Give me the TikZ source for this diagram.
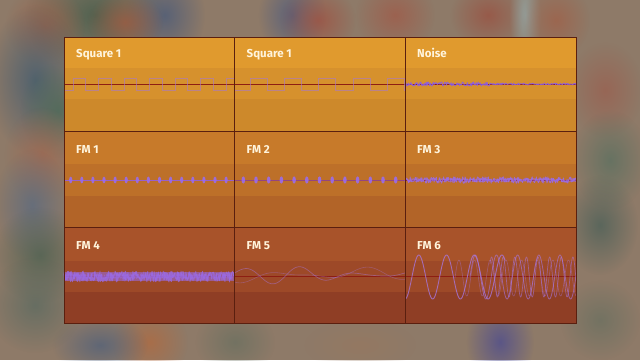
\documentclass[tikz,border=0pt]{standalone}
\usepackage{fontspec}
\setmainfont{Fira Sans}
\usetikzlibrary{fadings}
\definecolor{bgbase}{HTML}{8E7A68}
\definecolor{gridline}{HTML}{5A1F0F}
\definecolor{midline}{HTML}{8E1E12}
\definecolor{labelc}{HTML}{FFF4DC}
\definecolor{rAa}{HTML}{E09A2E}\definecolor{rAb}{HTML}{D6912D}\definecolor{rAc}{HTML}{CD892B}
\definecolor{rBa}{HTML}{C77A2A}\definecolor{rBb}{HTML}{BD7029}\definecolor{rBc}{HTML}{B26428}
\definecolor{rCa}{HTML}{A8532A}\definecolor{rCb}{HTML}{9D4928}\definecolor{rCc}{HTML}{8F3E25}
\definecolor{sqc}{HTML}{A878C8}
\definecolor{noisec}{HTML}{8A5CE8}
\definecolor{fmc}{HTML}{9A6CEC}
\definecolor{fmsix}{HTML}{A878E4}
\tikzfading[name=blobfade, inner color=transparent!0, outer color=transparent!100]
\tikzset{
  blob/.style={fill={#1}, path fading=blobfade, opacity=0.75},
  gridstroke/.style={draw=gridline, line width=1pt},
  cline/.style={draw=midline, line width=1pt},
  sqw/.style={draw=sqc, line width=0.8pt, opacity=0.6},
  noisew/.style={draw=noisec, line width=0.9pt, opacity=0.9, line join=round},
  fmw/.style={draw=fmc, line width=0.8pt, opacity=0.85, line join=round},
  blip/.style={fill=fmc, opacity=0.9},
  lbl/.style={text=labelc, font=\bfseries\fontsize{11.5}{13}\selectfont, anchor=base west, inner sep=0pt},
}
\begin{document}
\begin{tikzpicture}[x=1pt,y=-1pt]
\pgfmathsetseed{7}
\useasboundingbox (0,0) rectangle (640,360);
% background
\fill[bgbase] (0,0) rectangle (640,360);
\fill[blob={rgb,255:red,62;green,90;blue,72}] (95,15) ellipse (70pt and 60pt);
\fill[blob={rgb,255:red,72;green,90;blue,122}] (165,15) ellipse (40pt and 50pt);
\fill[blob={rgb,255:red,160;green,90;blue,64}] (125,22) ellipse (38pt and 30pt);
\fill[blob={rgb,255:red,154;green,96;blue,72}] (45,25) ellipse (40pt and 40pt);
\fill[blob={rgb,255:red,62;green,90;blue,112}] (35,80) ellipse (48pt and 75pt);
\fill[blob={rgb,255:red,74;green,106;blue,88}] (58,110) ellipse (38pt and 48pt);
\fill[blob={rgb,255:red,160;green,104;blue,80}] (42,155) ellipse (38pt and 48pt);
\fill[blob={rgb,255:red,90;green,106;blue,128}] (32,205) ellipse (38pt and 56pt);
\fill[blob={rgb,255:red,74;green,96;blue,80}] (40,255) ellipse (48pt and 48pt);
\fill[blob={rgb,255:red,90;green,106;blue,96}] (35,305) ellipse (48pt and 48pt);
\fill[blob={rgb,255:red,176;green,106;blue,64}] (150,342) ellipse (38pt and 38pt);
\fill[blob={rgb,255:red,80;green,96;blue,122}] (100,345) ellipse (48pt and 30pt);
\fill[blob={rgb,255:red,106;green,112;blue,96}] (235,342) ellipse (40pt and 34pt);
\fill[blob={rgb,255:red,74;green,90;blue,128}] (292,15) ellipse (34pt and 42pt);
\fill[blob={rgb,255:red,160;green,80;blue,64}] (318,20) ellipse (38pt and 34pt);
\fill[blob={rgb,255:red,160;green,90;blue,72}] (395,15) ellipse (40pt and 38pt);
\fill[blob={rgb,255:red,154;green,80;blue,64}] (488,15) ellipse (38pt and 34pt);
\fill[blob={rgb,255:red,150;green,170;blue,170}] (525,15) ellipse (16pt and 48pt);
\fill[blob={rgb,255:red,160;green,96;blue,72}] (556,20) ellipse (34pt and 38pt);
\fill[blob={rgb,255:red,154;green,96;blue,80}] (605,90) ellipse (38pt and 48pt);
\fill[blob={rgb,255:red,90;green,112;blue,96}] (610,160) ellipse (38pt and 50pt);
\fill[blob={rgb,255:red,74;green,96;blue,88}] (600,225) ellipse (38pt and 50pt);
\fill[blob={rgb,255:red,74;green,74;blue,144}] (500,342) ellipse (34pt and 44pt);
\fill[blob={rgb,255:red,106;green,112;blue,96}] (600,320) ellipse (40pt and 40pt);
\fill[blob={rgb,255:red,150;green,120;blue,96}] (360,345) ellipse (56pt and 26pt);
% panel bands
\fill[rAa] (64,37) rectangle (576,68);
\fill[rAb] (64,68) rectangle (576,99);
\fill[rAc] (64,99) rectangle (576,131);
\fill[rBa] (64,131) rectangle (576,164);
\fill[rBb] (64,164) rectangle (576,196);
\fill[rBc] (64,196) rectangle (576,227);
\fill[rCa] (64,227) rectangle (576,261);
\fill[rCb] (64,261) rectangle (576,292);
\fill[rCc] (64,292) rectangle (576,323);
% centre lines
\draw[cline] (64,84) -- (576,84);
\draw[cline] (64,180) -- (576,180);
\draw[cline] (64,276) -- (576,276);
% Square 1 (col 1)
\begin{scope}
\clip (64,37) rectangle (234,131);
\draw[sqw] (64,90) \foreach \k in {0,...,6} { -- ({73+25.5*\k},90) -- ({73+25.5*\k},78) -- ({85.75+25.5*\k},78) -- ({85.75+25.5*\k},90) } -- (240,90);
\end{scope}
% Square 1 (col 2)
\begin{scope}
\clip (234,37) rectangle (405,131);
\draw[sqw] (234,90) \foreach \k in {0,...,4} { -- ({250+34.3*\k},90) -- ({250+34.3*\k},78) -- ({267.2+34.3*\k},78) -- ({267.2+34.3*\k},90) } -- (410,90);
\end{scope}
% Noise
\draw[noisew] plot[domain=405:490, samples=130] (\x,{84+2*rand});
\draw[noisew] plot[domain=490:576, samples=110] (\x,{84+0.9*rand});
% FM 1
\draw[fmw] (64,180) -- (234,180);
\foreach \k in {0,...,14} \fill[blip] ({70.7+11.1*\k},180) ellipse (1.6pt and 3.4pt);
% FM 2
\draw[fmw, opacity=0.5] (234,180) -- (405,180);
\foreach \k in {0,...,12} \fill[blip] ({243.3+12.7*\k},180) ellipse (1.8pt and 3.6pt);
% FM 3
\draw[fmw] plot[domain=405:576, samples=360] (\x,{180+3.2*rand});
\draw[fmw, opacity=0.6] plot[domain=405:576, samples=300] (\x,{180+2*rand});
% FM 4
\fill[fmc, opacity=0.55] (64,272) rectangle (234,281);
\draw[fmw, opacity=0.7] plot[domain=64:234, samples=450] (\x,{276.5+5.5*rand});
\draw[fmw, opacity=0.5] plot[domain=64:234, samples=350] (\x,{276.5+4*rand});
% FM 5
\begin{scope}
\clip (234,227) rectangle (405,323);
\draw[draw=fmsix, line width=0.7pt, opacity=0.45] plot[domain=234:405, samples=260] (\x,{275-9*sin(6.5*(\x-234)+20)*(0.55+0.45*sin(1.9*(\x-234)))});
\draw[draw=fmsix, line width=0.6pt, opacity=0.35] plot[domain=234:405, samples=260] (\x,{275+8*sin(4.3*(\x-234)+60)*(0.5+0.5*cos(2.6*(\x-234)))});
\end{scope}
% FM 6
\begin{scope}
\clip (405,227) rectangle (576,323);
\draw[draw=fmsix, line width=0.9pt, opacity=0.75, line join=round] plot[domain=405:505, samples=200] (\x,{277-22*sin(13*(\x-405)-90)});
\draw[draw=fmsix, line width=0.8pt, opacity=0.6, line join=round] plot[domain=470:576, samples=220] (\x,{277-22*sin(17*(\x-470))});
\draw[draw=fmsix, line width=0.7pt, opacity=0.55, line join=round] plot[domain=490:576, samples=220] (\x,{277-20*sin(31*(\x-490)+40)});
\draw[draw=fmsix, line width=0.6pt, opacity=0.4, line join=round] plot[domain=455:576, samples=220] (\x,{278-18*sin(23*(\x-455))});
\end{scope}
% grid lines
\draw[gridstroke] (64,37) rectangle (576,323);
\draw[gridstroke] (234.5,37) -- (234.5,323);
\draw[gridstroke] (405.5,37) -- (405.5,323);
\draw[gridstroke] (64,131) -- (576,131);
\draw[gridstroke] (64,227) -- (576,227);
% labels
\node[lbl] (l11) at (76,57) {Square 1};
\node[lbl] (l12) at (246.5,57) {Square 1};
\node[lbl] (l13) at (417,57) {Noise};
\node[lbl] (l21) at (76,153) {FM 1};
\node[lbl] (l22) at (246.5,153) {FM 2};
\node[lbl] (l23) at (417,153) {FM 3};
\node[lbl] (l31) at (76,249) {FM 4};
\node[lbl] (l32) at (246.5,249) {FM 5};
\node[lbl] (l33) at (417,249) {FM 6};
\end{tikzpicture}
\end{document}
